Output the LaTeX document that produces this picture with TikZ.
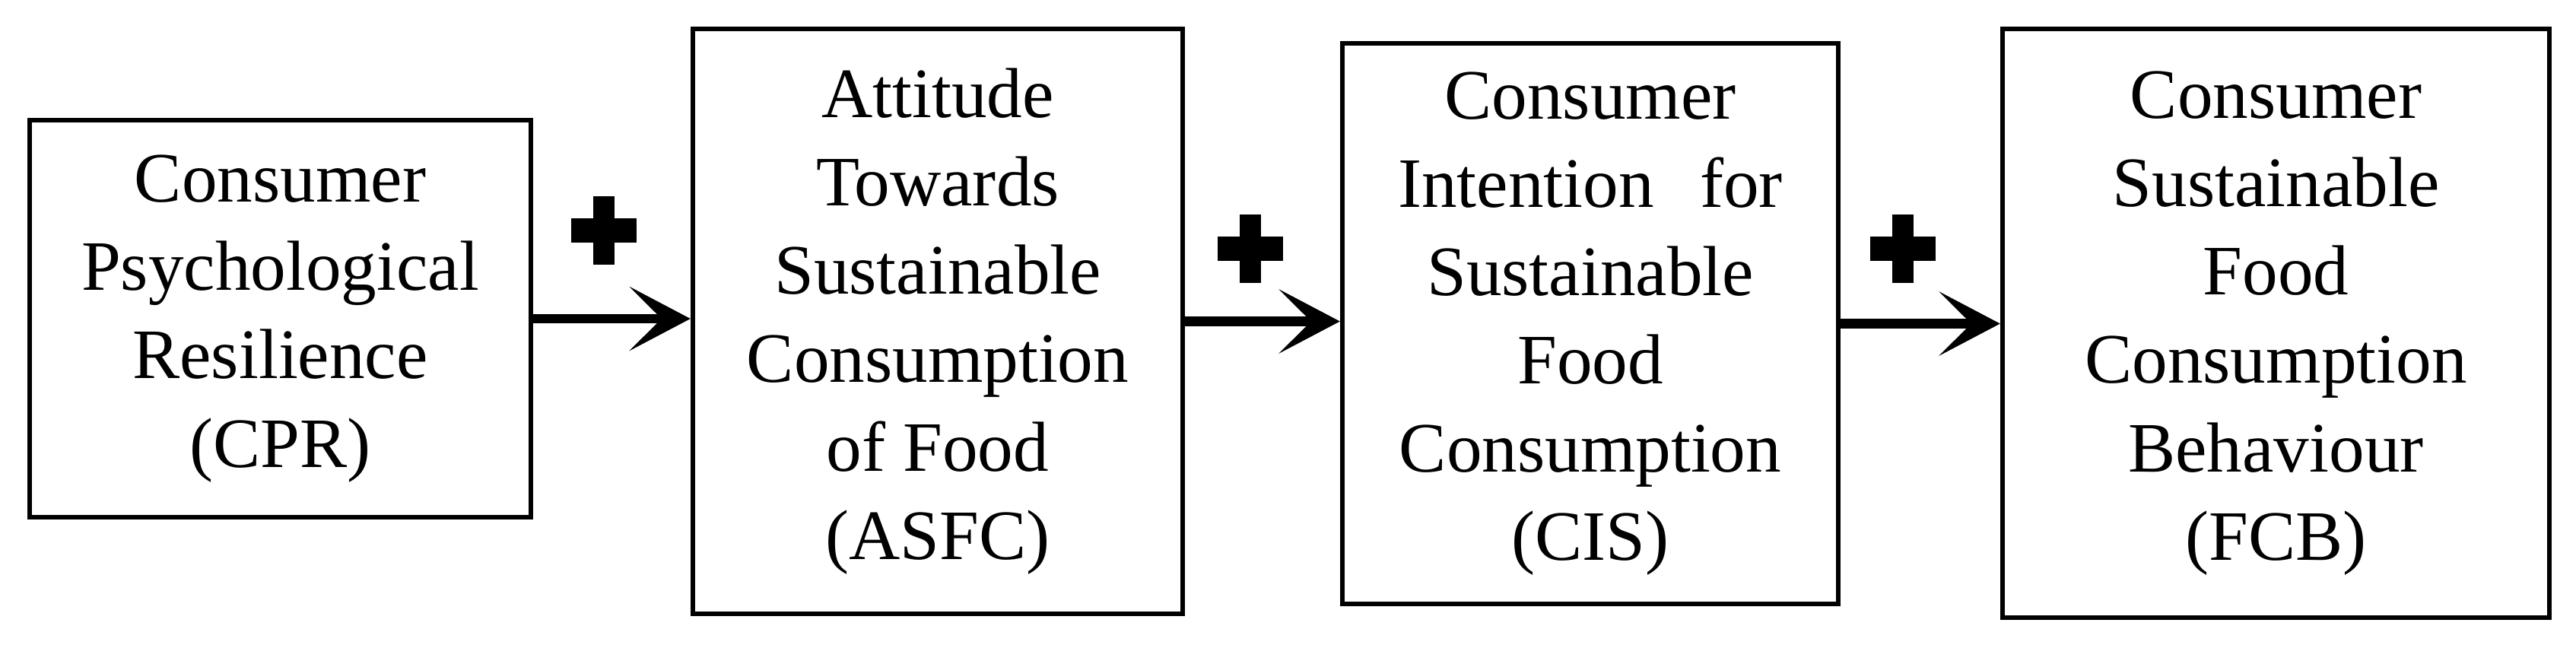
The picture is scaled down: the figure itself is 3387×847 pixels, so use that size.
\documentclass[tikz,border=0pt]{standalone}
\usepackage{fontspec}
\setmainfont{Liberation Serif}
\usetikzlibrary{arrows.meta}
\begin{document}
\begin{tikzpicture}[x=0.01cm,y=-0.01cm,
  box/.style={draw=black, line width=1.7pt, inner sep=0pt, align=center,
    font=\fontsize{26.5}{33}\selectfont},
  link/.style={line width=3.6pt, -{Stealth[length=0.8cm,width=0.84cm,inset=0.42cm]}},
  plussign/.pic={\fill (-43,-16) rectangle (43,16); \fill (-14,-45) rectangle (14,45);}
]
\useasboundingbox (0,0) rectangle (3387,847);
\node[box, minimum width=6.59cm, minimum height=5.22cm] (cpr) at (368.5,419)
  {Consumer\\Psychological\\Resilience\\(CPR)};
\node[box, minimum width=6.44cm, minimum height=7.69cm] (asfc) at (1233,422.5)
  {Attitude\\Towards\\Sustainable\\Consumption\\of Food\\(ASFC)};
\node[box, minimum width=6.52cm, minimum height=7.37cm] (cis) at (2091,425.5)
  {Consumer\\Intention\hspace{0.4em} for\\Sustainable\\Food\\Consumption\\(CIS)};
\node[box, minimum width=7.19cm, minimum height=7.74cm] (fcb) at (2992.5,425)
  {Consumer\\Sustainable\\Food\\Consumption\\Behaviour\\(FCB)};
\draw[link] (cpr.east) -- (cpr.east -| asfc.west);
\draw[link] (asfc.east) -- (asfc.east -| cis.west);
\draw[link] (cis.east) -- (cis.east -| fcb.west);
\pic at (794,303) {plussign};
\pic at (1644,327) {plussign};
\pic at (2502,327) {plussign};
\end{tikzpicture}
\end{document}
